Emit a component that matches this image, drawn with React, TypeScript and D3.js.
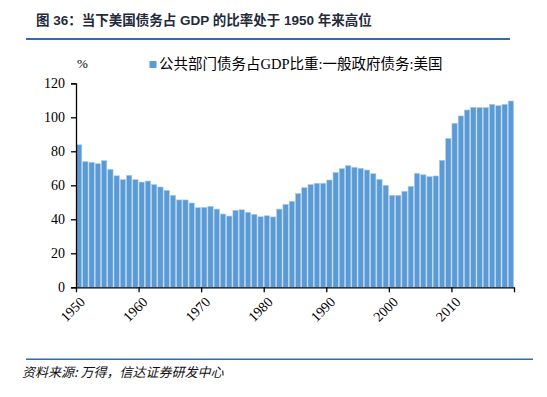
import React, { useEffect, useRef } from 'react';
import * as d3 from 'd3';

// 公共部门债务占GDP比重:一般政府债务:美国 (%), 1950-2019
const years = d3.range(1950, 2020);
const debtRatio = [
  83.8, 73.9, 73.5, 72.7, 74.5, 69.4, 65.6, 63.3, 65.9, 63.3,
  61.9, 62.5, 60.4, 59.0, 57.0, 54.1, 51.4, 51.4, 49.6, 46.8,
  47.0, 47.6, 46.0, 43.1, 41.9, 45.3, 45.6, 44.1, 42.9, 41.5,
  42.1, 41.4, 46.0, 48.8, 50.6, 55.1, 58.6, 60.4, 61.2, 61.2,
  63.1, 67.6, 69.8, 71.6, 70.6, 70.0, 69.0, 66.8, 63.5, 60.0,
  54.1, 54.1, 56.5, 59.4, 67.0, 66.2, 65.1, 65.5, 74.7, 87.6,
  96.5, 100.8, 104.3, 105.9, 105.7, 105.7, 107.6, 106.8, 107.6, 109.6,
];
const yTicks = [0, 20, 40, 60, 80, 100, 120];
const xTickYears = [1950, 1960, 1970, 1980, 1990, 2000, 2010, 2020];

const title = '图 36：当下美国债务占 GDP 的比率处于 1950 年来高位';
const legendLabel = '公共部门债务占GDP比重:一般政府债务:美国';
const source = '资料来源: 万得，信达证券研发中心';

const W = 547;
const H = 397;
const left = 76, right = 514, top = 83.3, bottom = 287.3;
const barColor = '#5B9BD5';
const serif = '"Times New Roman", "Liberation Serif", "Noto Sans CJK SC", serif';

export default function App() {
  const yAxisRef = useRef<SVGGElement>(null);
  const xAxisRef = useRef<SVGGElement>(null);

  const x = d3.scaleBand<number>().domain(years).range([left, right]).paddingInner(0.15).paddingOuter(0.07);
  const xLin = d3.scaleLinear().domain([1950, 2020]).range([left, right]);
  const y = d3.scaleLinear().domain([0, 120]).range([bottom, top]);

  useEffect(() => {
    const gy = d3.select(yAxisRef.current);
    gy.call(d3.axisLeft(y).tickValues(yTicks).tickSize(5).tickPadding(6) as any);
    gy.select('.domain').attr('stroke', '#000').attr('stroke-width', 1.3);
    gy.selectAll('.tick line').attr('stroke', '#000').attr('stroke-width', 1.3);
    gy.selectAll('.tick text')
      .attr('font-family', serif)
      .attr('font-size', 14)
      .attr('fill', '#000');

    const gx = d3.select(xAxisRef.current);
    gx.call(
      d3.axisBottom(xLin)
        .tickValues(xTickYears)
        .tickSize(5)
        .tickSizeOuter(0)
        .tickFormat((d) => (+d < 2020 ? String(d) : '')) as any
    );
    gx.select('.domain').attr('stroke', '#000').attr('stroke-width', 1.3);
    gx.selectAll('.tick line').attr('stroke', '#000').attr('stroke-width', 1.3);
    gx.selectAll('.tick text')
      .attr('font-family', serif)
      .attr('font-size', 14)
      .attr('fill', '#000')
      .attr('text-anchor', 'end')
      .attr('y', 0)
      .attr('dy', '0.35em')
      .attr('transform', 'translate(6,12) rotate(-45)');
  }, []);

  return (
    <svg width={W} height={H} style={{ position: 'absolute', left: 0, top: 0, background: '#fff' }}>
      <text x={36} y={25} fontFamily='Arial, "Liberation Sans", "Noto Sans CJK SC", sans-serif' fontWeight="bold" fontSize={13.5} fill="#1f2b3a">
        {title}
      </text>
      <line x1={26} x2={510} y1={39} y2={39} stroke="#2E6DB4" strokeWidth={2.2} />

      <text x={77} y={68} fontFamily={serif} fontSize={13} fill="#000">%</text>
      <rect x={149.5} y={61} width={7} height={7} fill={barColor} />
      <text x={159} y={68.5} fontFamily={serif} fontSize={14.5} fill="#000">{legendLabel}</text>

      <g>
        {years.map((yr, i) => (
          <rect
            key={yr}
            x={x(yr)}
            y={y(debtRatio[i])}
            width={x.bandwidth()}
            height={bottom - y(debtRatio[i])}
            fill={barColor}
            stroke="#A9CBEB"
            strokeWidth={0.6}
          />
        ))}
      </g>

      <g ref={yAxisRef} transform={`translate(${left},0)`} />
      <g ref={xAxisRef} transform={`translate(0,${bottom})`} />

      <line x1={26} x2={533} y1={359.3} y2={359.3} stroke="#2E6DB4" strokeWidth={1.5} />
      <text x={22} y={377} fontFamily='"Noto Sans CJK SC", sans-serif' fontStyle="italic" fontSize={13} fill="#111">
        {source}
      </text>
    </svg>
  );
}
